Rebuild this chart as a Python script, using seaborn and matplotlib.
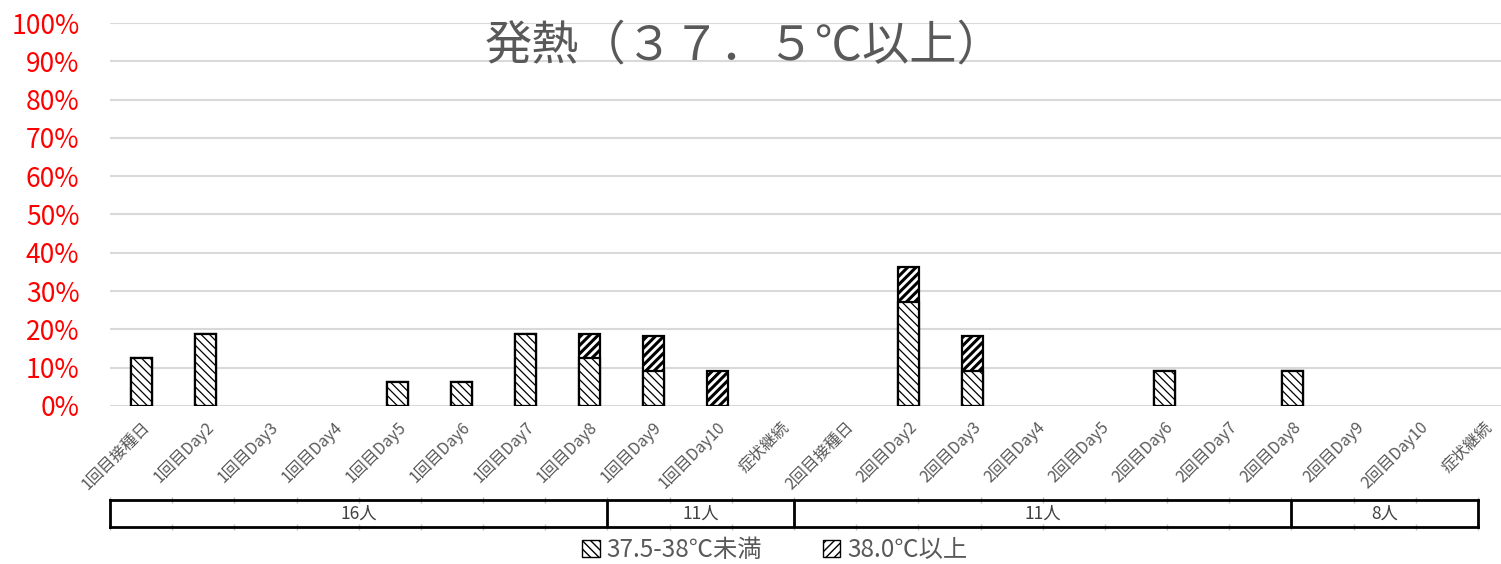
import numpy as np
import pandas as pd
import matplotlib
matplotlib.use("Agg")
import matplotlib.pyplot as plt
import matplotlib.ticker as mticker
from matplotlib.patches import Patch
import seaborn as sns

# ----- data -----
labels = [
    "1回目接種日", "1回目Day2", "1回目Day3", "1回目Day4", "1回目Day5", "1回目Day6",
    "1回目Day7", "1回目Day8", "1回目Day9", "1回目Day10", "症状継続",
    "2回目接種日", "2回目Day2", "2回目Day3", "2回目Day4", "2回目Day5", "2回目Day6",
    "2回目Day7", "2回目Day8", "2回目Day9", "2回目Day10", "症状継続",
]
fever_low = [0.125, 0.1875, 0, 0, 0.0625, 0.0625, 0.1875, 0.125, 0.0909, 0, 0,
             0, 0.2727, 0.0909, 0, 0, 0.0909, 0, 0.0909, 0, 0, 0]
fever_high = [0, 0, 0, 0, 0, 0, 0, 0.0625, 0.0909, 0.0909, 0,
              0, 0.0909, 0.0909, 0, 0, 0, 0, 0, 0, 0, 0]
group_labels = ["16人", "11人", "11人", "8人"]
group_sizes = [8, 3, 8, 3]
series_names = ["37.5-38℃未満", "38.0℃以上"]

df = pd.DataFrame({
    "pos": np.arange(len(labels)),
    "low": fever_low,
    "total": np.array(fever_low) + np.array(fever_high),
})

sns.set_theme(style="whitegrid")
plt.rcParams["font.family"] = ["Noto Sans CJK JP", "DejaVu Sans"]

gray_txt = "#595959"
hatch_low = "\\\\\\\\"
hatch_high = "////"

W, H = 1501, 564
fig = plt.figure(figsize=(W / 100, H / 100), dpi=100)
ax = fig.add_axes([110 / W, (H - 406) / H, 22 * 63.9 / W, 383 / H])

def draw(col, hatch, hlw):
    before = len(ax.patches)
    with plt.rc_context({"hatch.linewidth": hlw}):
        sns.barplot(data=df, x="pos", y=col, ax=ax, color="white", width=0.33,
                    edgecolor="black", linewidth=1.6, hatch=hatch, saturation=1,
                    errorbar=None)
    for p in ax.patches[before:]:
        p.set_facecolor("white")
        if hasattr(p, "set_hatch_linewidth"):
            p.set_hatch_linewidth(hlw)
        if p.get_height() <= 0:
            p.set_visible(False)

draw("total", hatch_high, 2.2)
draw("low", hatch_low, 0.9)

ax.set_xlim(-0.5, len(labels) - 0.5)
ax.set_ylim(0, 1)
ax.yaxis.set_major_locator(mticker.MultipleLocator(0.1))
ax.yaxis.set_major_formatter(mticker.PercentFormatter(1.0, decimals=0))
ax.grid(axis="y", color="#d9d9d9", linewidth=1.5)
ax.grid(axis="x", visible=False)
ax.set_axisbelow(True)
for s in ax.spines.values():
    s.set_visible(False)
ax.set_xlabel("")
ax.set_ylabel("")
ax.set_xticks(range(len(labels)))
ax.set_xticklabels(labels, rotation=45, ha="right", rotation_mode="anchor",
                   fontsize=11.5, color=gray_txt)
ax.tick_params(axis="x", length=0, pad=9)
ax.tick_params(axis="y", length=0, pad=22, labelsize=19, labelcolor="red")

# title
fig.text(744 / W, 1 - 46 / H, "発熱（３７．５℃以上）", ha="center", va="center",
         fontsize=34, color=gray_txt)

# group table under the axis
tax = fig.add_axes([110 / W, (H - 527) / H, (1478 - 110) / W, 27 / H])
tax.set_xlim(-0.5, len(labels) - 0.5)
tax.set_ylim(0, 1)
tax.set_facecolor("white")
tax.grid(False)
for s in tax.spines.values():
    s.set_visible(True)
    s.set_color("black")
    s.set_linewidth(2)
tax.set_yticks([])
tax.set_xticks(np.arange(len(labels) + 1) - 0.5)
tax.set_xticklabels([])
tax.tick_params(axis="x", direction="inout", length=5, color="#bfbfbf",
                top=True, bottom=True, width=1)
start = 0
for lab, n in zip(group_labels, group_sizes):
    tax.text(start + n / 2 - 0.5, 0.5, lab, ha="center", va="center",
             fontsize=12.5, color="#404040")
    if start > 0:
        tax.axvline(start - 0.5, color="black", linewidth=2)
    start += n

# legend
with plt.rc_context({"hatch.linewidth": 0.9}):
    h1 = Patch(facecolor="white", edgecolor="black", hatch=hatch_low)
with plt.rc_context({"hatch.linewidth": 2.2}):
    h2 = Patch(facecolor="white", edgecolor="black", hatch=hatch_high)
leg = fig.legend([h1, h2], series_names, loc="center", bbox_to_anchor=(775 / W, 1 - 550 / H),
                 ncol=2, frameon=False, fontsize=17.5, handlelength=0.7, handleheight=0.7,
                 handletextpad=0.3, columnspacing=2.5)
for t in leg.get_texts():
    t.set_color(gray_txt)

fig.savefig("out.png", dpi=100)
